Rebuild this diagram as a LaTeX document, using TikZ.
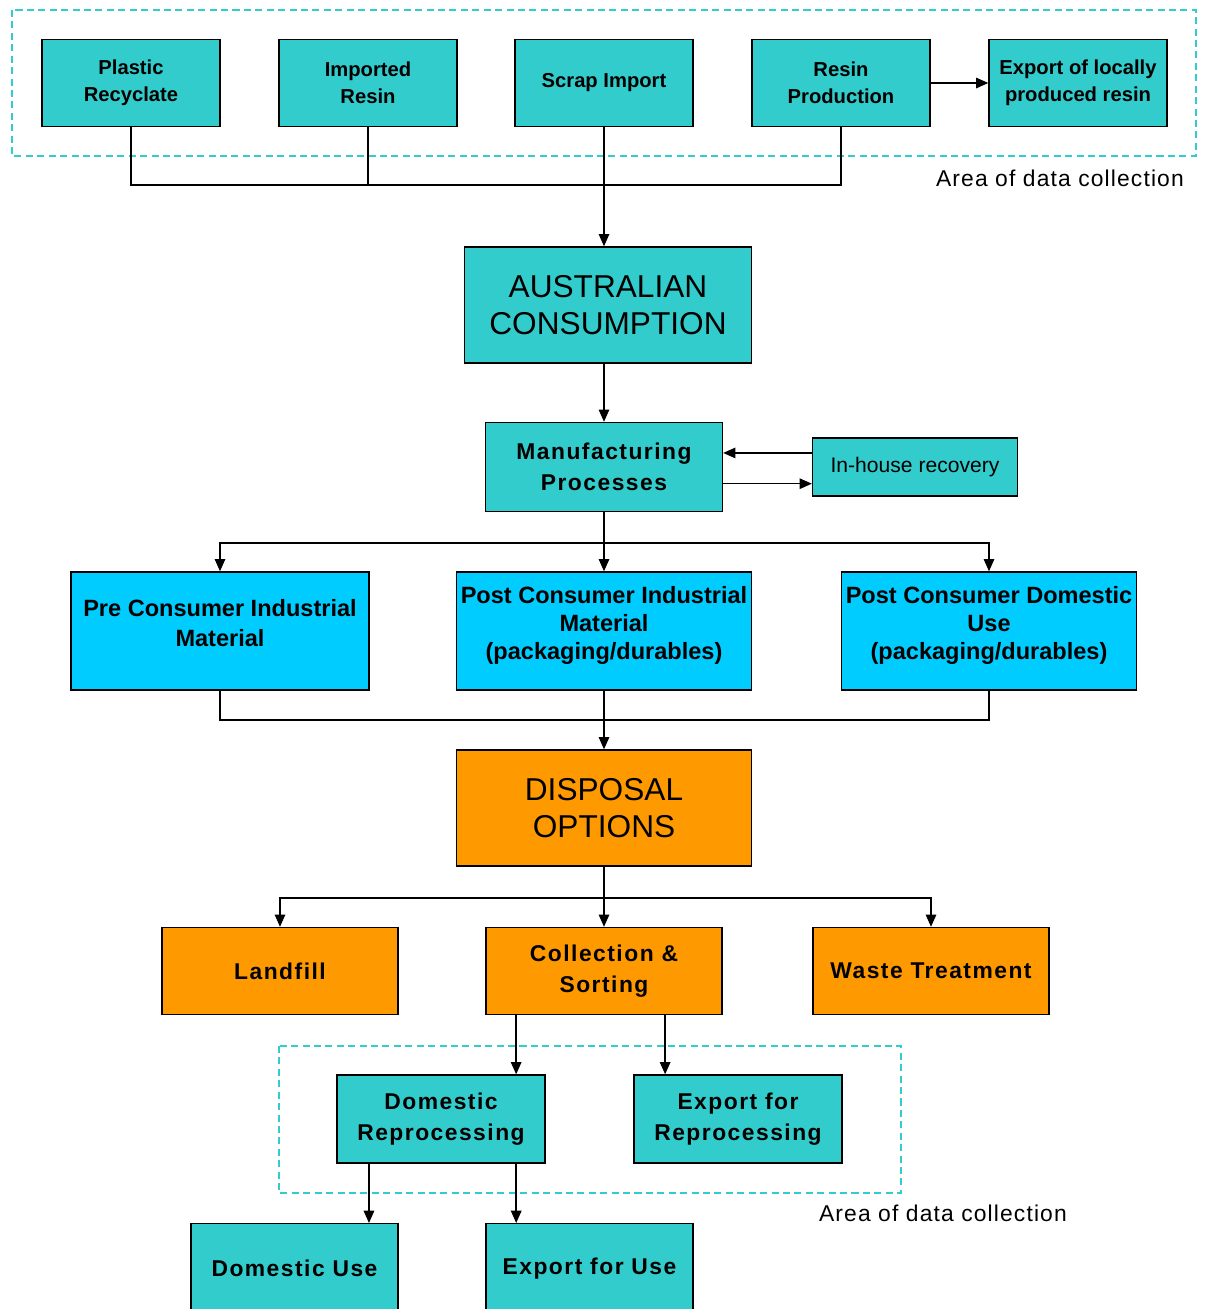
\documentclass[tikz,border=0pt]{standalone}
\usepackage{fontspec}
\setmainfont{Liberation Sans}
\usetikzlibrary{arrows.meta}
\definecolor{tealbox}{HTML}{33CCCC}
\definecolor{bluebox}{HTML}{00CCFF}
\definecolor{orangebox}{HTML}{FF9900}
\tikzset{
  box/.style={draw, line width=0.8pt, fill=tealbox, align=center, inner sep=2pt},
  small/.style={font=\fontsize{11.5}{15.3}\selectfont\bfseries},
  big/.style={font=\fontsize{18}{21}\selectfont},
  mid/.style={font=\fontsize{13}{17.5}\selectfont\bfseries\addfontfeatures{LetterSpace=6.5}},
  material/.style={box, fill=bluebox, font=\fontsize{13.4}{16}\selectfont\bfseries, text depth=9pt, minimum height=2.36cm},
  link/.style={line width=0.8pt},
  arrow/.style={link, -{Triangle[length=7pt,width=6pt]}},
  area/.style={draw=tealbox, line width=0.8pt, dash pattern=on 4pt off 2.5pt},
}
\begin{document}
\begin{tikzpicture}[x=0.02cm, y=-0.02cm]
  \clip (0,0) rectangle (1208,1309);
  \fill[white] (0,0) rectangle (1208,1309);
  % areas of data collection
  \draw[area] (12,10) rectangle (1196,156);
  \draw[area] (279,1046) rectangle (901,1193);
  \node[anchor=east, font=\fontsize{13}{15}\selectfont\addfontfeatures{LetterSpace=5}] (area1) at (1190,178) {Area of data collection};
  \node[anchor=east, font=\fontsize{13}{15}\selectfont\addfontfeatures{LetterSpace=5}] (area2) at (1073,1213) {Area of data collection};
  % sources
  \node[box, small, minimum width=3.56cm, minimum height=1.74cm] (plastic) at (131,83) {Plastic\\Recyclate};
  \node[box, small, minimum width=3.56cm, minimum height=1.74cm] (imported) at (368,83) {Imported\\Resin};
  \node[box, small, minimum width=3.56cm, minimum height=1.74cm] (scrap) at (604,83) {Scrap Import};
  \node[box, small, minimum width=3.56cm, minimum height=1.74cm] (resin) at (841,83) {Resin\\Production};
  \node[box, small, minimum width=3.56cm, minimum height=1.74cm] (exportresin) at (1078,83) {Export of locally\\produced resin};
  % consumption
  \node[box, big, minimum width=5.74cm, minimum height=2.32cm] (consumption) at (608,305) {AUSTRALIAN\\CONSUMPTION};
  \node[box, mid, minimum width=4.74cm, minimum height=1.78cm] (manuf) at (604,467) {Manufacturing\\Processes};
  \node[box, font=\fontsize{12}{14}\selectfont, minimum width=4.1cm, minimum height=1.16cm] (inhouse) at (915,467) {In-house recovery};
  % materials
  \node[material, minimum width=5.96cm] (precons) at (220,631) {Pre Consumer Industrial\\[1pt]Material};
  \node[material, minimum width=5.9cm] (postind) at (604,631) {Post Consumer Industrial\\Material\\(packaging/durables)};
  \node[material, minimum width=5.9cm] (postdom) at (989,631) {Post Consumer Domestic\\Use\\(packaging/durables)};
  % disposal
  \node[box, big, fill=orangebox, minimum width=5.9cm, minimum height=2.32cm] (disposal) at (604,808) {DISPOSAL\\OPTIONS};
  \node[box, mid, fill=orangebox, minimum width=4.72cm, minimum height=1.74cm] (landfill) at (280,971) {Landfill};
  \node[box, mid, fill=orangebox, minimum width=4.72cm, minimum height=1.74cm] (collect) at (604,971) {Collection \&\\Sorting};
  \node[box, mid, fill=orangebox, minimum width=4.72cm, minimum height=1.74cm] (waste) at (931,971) {Waste Treatment};
  % reprocessing
  \node[box, mid, minimum width=4.16cm, minimum height=1.76cm] (domrep) at (441,1119) {Domestic\\Reprocessing};
  \node[box, mid, minimum width=4.16cm, minimum height=1.76cm] (exprep) at (738,1119) {Export for\\Reprocessing};
  \node[box, mid, anchor=north, minimum width=4.14cm, minimum height=1.8cm] (domuse) at (294.5,1223) {Domestic Use};
  \node[box, mid, anchor=north, minimum width=4.14cm, minimum height=1.8cm] (expuse) at (589.5,1223) {Export for Use};
  % connectors
  \coordinate (join1) at (605,185);
  \coordinate (split1) at (605,543);
  \coordinate (merge1) at (605,720);
  \coordinate (split2) at (605,898);
  \draw[link] (plastic.south) |- (join1);
  \draw[link] (resin.south) |- (join1);
  \draw[link] (imported.south) -- (imported.south |- join1);
  \draw[arrow] (scrap.south) -- (scrap.south |- consumption.north);
  \draw[arrow] (resin.east) -- (exportresin.west);
  \draw[arrow] (manuf.north |- consumption.south) -- (manuf.north);
  \draw[arrow] ([yshift=8pt]inhouse.west) -- ([yshift=8pt]manuf.east);
  \draw[arrow] ([yshift=-9.5pt]manuf.east) -- ([yshift=-9.5pt]inhouse.west);
  \draw[arrow] (manuf.south) -- (postind.north);
  \draw[arrow] (split1) -| (precons.north);
  \draw[arrow] (split1) -| (postdom.north);
  \draw[link] (precons.south) |- (merge1);
  \draw[link] (postdom.south) |- (merge1);
  \draw[arrow] (postind.south) -- (disposal.north);
  \draw[arrow] (disposal.south) -- (collect.north);
  \draw[arrow] (split2) -| (landfill.north);
  \draw[arrow] (split2) -| (waste.north);
  \draw[arrow] ([xshift=-50pt]collect.south) -- ([xshift=-50pt]collect.south |- domrep.north);
  \draw[arrow] ([xshift=34.8pt]collect.south) -- ([xshift=34.8pt]collect.south |- exprep.north);
  \draw[arrow] ([xshift=-41pt]domrep.south) -- ([xshift=-41pt]domrep.south |- domuse.north);
  \draw[arrow] ([xshift=42.8pt]domrep.south) -- ([xshift=42.8pt]domrep.south |- expuse.north);
\end{tikzpicture}
\end{document}
